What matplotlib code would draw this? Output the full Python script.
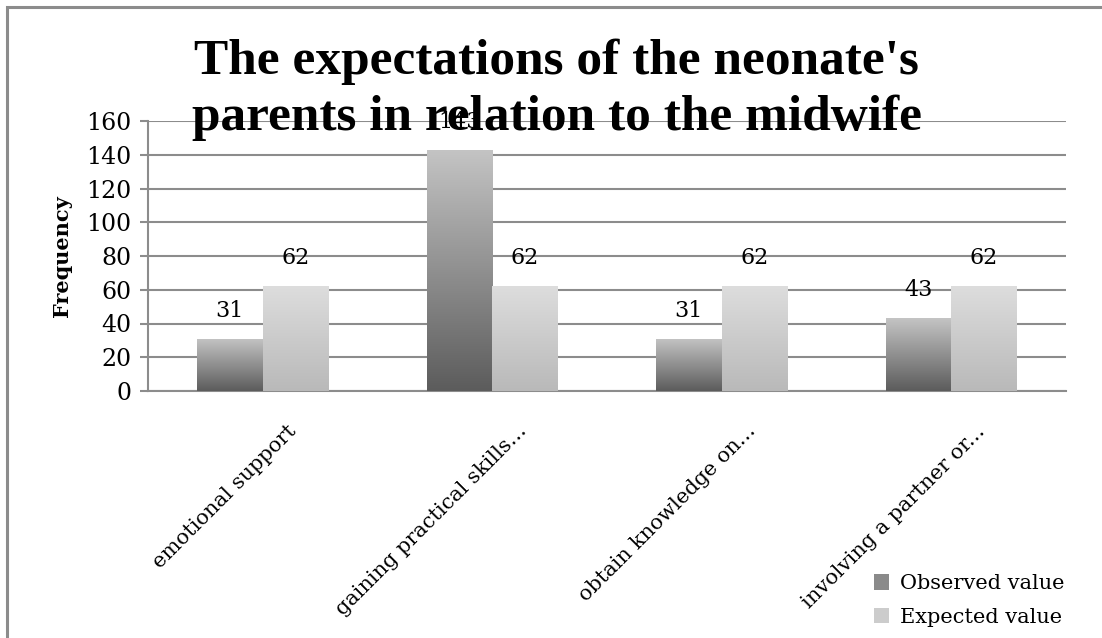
"""expectations of neonate's parents - observed vs expected"""
import numpy as np
import matplotlib
matplotlib.use("Agg")
import matplotlib.pyplot as plt
import matplotlib.transforms as mtransforms
from matplotlib.patches import Rectangle

categories = ["emotional support", "gaining practical skills...",
              "obtain knowledge on...", "involving a partner or..."]
observed = [31, 143, 31, 43]
expected = [62, 62, 62, 62]
series_names = ["Observed value", "Expected value"]
y_ticks = [0, 20, 40, 60, 80, 100, 120, 140, 160]

plt.rcParams['font.family'] = ['DejaVu Serif']

fig = plt.figure(figsize=(11.02, 6.38), dpi=100)
ax = fig.add_axes([148 / 1102, 1 - 391 / 638, 918 / 1102, 270 / 638])

# outer chart border
fig.patches.append(Rectangle((7 / 1102, -0.05), 1.2, 1 - 7 / 638 + 0.05,
                             transform=fig.transFigure, fill=False,
                             edgecolor='#8c8c8c', linewidth=2.2))

x = np.arange(len(categories))
width = 0.286

# gradients (top -> bottom)
grads = [('#c4c4c4', '#5c5c5c'), ('#dddddd', '#b9b9b9')]


def gradient_bar(ax, xc, h, top_col, bot_col):
    bar = ax.bar(xc, h, width=width, color='none', edgecolor='none', zorder=3)[0]
    c1 = np.array(matplotlib.colors.to_rgb(top_col))
    c2 = np.array(matplotlib.colors.to_rgb(bot_col))
    t = np.linspace(0, 1, 128)[:, None]
    img = (c1 * (1 - t) + c2 * t)[:, None, :]
    im = ax.imshow(img, extent=[xc - width / 2, xc + width / 2, 0, h],
                   aspect='auto', origin='upper', zorder=3)
    im.set_clip_path(bar)
    return bar


for i in range(len(categories)):
    xo = x[i] - width / 2
    xe = x[i] + width / 2
    gradient_bar(ax, xo, observed[i], *grads[0])
    gradient_bar(ax, xe, expected[i], *grads[1])
    ax.annotate(str(observed[i]), (xo, observed[i]), xytext=(0, 28),
                textcoords='offset pixels', ha='center', va='center',
                fontsize=16, zorder=1)
    ax.annotate(str(expected[i]), (xe, expected[i]), xytext=(0, 28),
                textcoords='offset pixels', ha='center', va='center',
                fontsize=16, zorder=1)

ax.set_xlim(-0.5, len(categories) - 0.5)
ax.set_ylim(0, 160)
ax.set_yticks(y_ticks)
ax.tick_params(axis='y', labelsize=17, length=6, color='#8c8c8c', width=1.5,
               pad=6)
ax.yaxis.grid(True, color='#8c8c8c', linewidth=1.5, zorder=0)
ax.set_axisbelow(True)
for side in ['top', 'right']:
    ax.spines[side].set_visible(False)
for side in ['left', 'bottom']:
    ax.spines[side].set_color('#8c8c8c')
    ax.spines[side].set_linewidth(1.5)
ax.set_ylabel('Frequency', fontsize=15, fontweight='bold')
ax.yaxis.set_label_coords((72 - 148) / 918, 0.5)

ax.set_xticks(x)
ax.set_xticklabels(categories, rotation=45, ha='right', va='baseline',
                   rotation_mode='anchor', fontsize=15)
ax.tick_params(axis='x', length=0, pad=0)
offset = mtransforms.ScaledTranslation(35 / 100, -41 / 100, fig.dpi_scale_trans)
for lbl in ax.get_xticklabels():
    lbl.set_transform(lbl.get_transform() + offset)

fig.text(0.505, 1 - 130 / 638,
         "The expectations of the neonate's\nparents in relation to the midwife",
         ha='center', va='baseline', fontsize=37, fontweight='bold',
         family='Liberation Serif', linespacing=1.26, zorder=10)

handles = [Rectangle((0, 0), 1, 1, facecolor='#8a8a8a'),
           Rectangle((0, 0), 1, 1, facecolor='#cccccc')]
fig.legend(handles, series_names, loc='lower left',
           bbox_to_anchor=(855 / 1102, -0.012), frameon=False, fontsize=15,
           handlelength=0.75, handleheight=0.75, handletextpad=0.5,
           labelspacing=0.7)

plt.savefig('out.png', dpi=100)
